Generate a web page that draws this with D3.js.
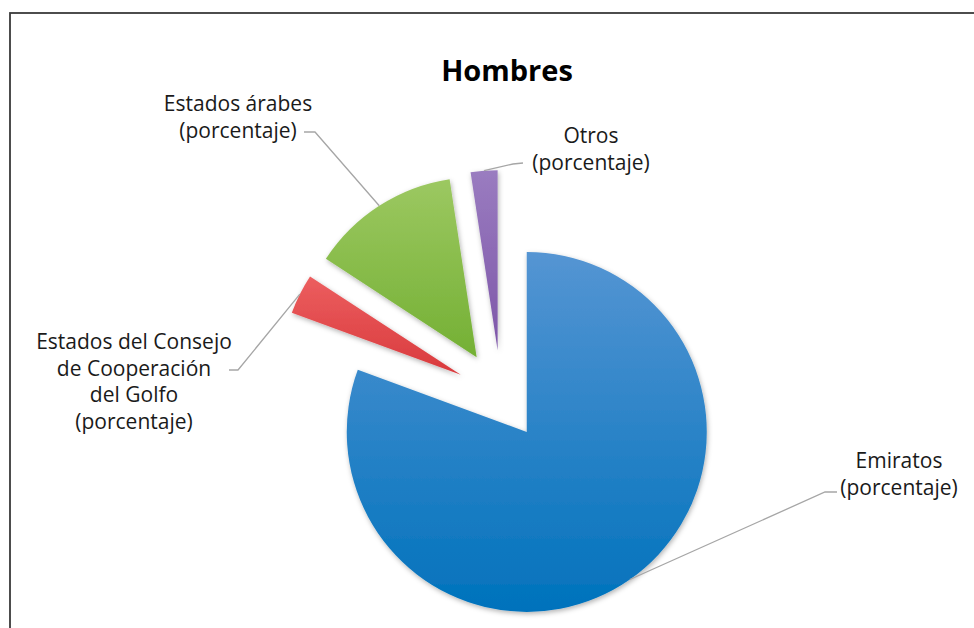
<!DOCTYPE html>
<html>
<head>
<meta charset="utf-8">
<script src="https://cdn.jsdelivr.net/npm/d3@7"></script>
<style>
  html, body { margin: 0; padding: 0; background: #fff; }
  svg { display: block; }
  text { font-family: "Open Sans", "Noto Sans", sans-serif; fill: #1a1a1a; }
</style>
</head>
<body>
<svg id="chart" width="974" height="628"></svg>
<script>
// Composición por origen — Hombres
const categories = ["Emiratos", "Estados del Consejo de Cooperación del Golfo", "Estados árabes", "Otros"];
const values = [80.6, 3.6, 13.4, 2.4];
const labelLines = [
  ["Emiratos", "(porcentaje)"],
  ["Estados del Consejo", "de Cooperación", "del Golfo", "(porcentaje)"],
  ["Estados árabes", "(porcentaje)"],
  ["Otros", "(porcentaje)"]
];
const colorsTop = ["#5595d3", "#ec5e5f", "#9cc861", "#9a7cc0"];
const colorsBottom = ["#0072bc", "#d93a3d", "#74b034", "#7d56a8"];
const title = "Hombres";

const W = 974, H = 628;
const cx = 501, cy = 395, radius = 180, explode = 45;

const svg = d3.select("#chart");
const defs = svg.append("defs");

// soft halo under each slice
const shadow = defs.append("filter").attr("id", "sliceShadow")
  .attr("x", "-20%").attr("y", "-20%").attr("width", "140%").attr("height", "140%");
shadow.append("feDropShadow")
  .attr("dx", 1).attr("dy", 2).attr("stdDeviation", 2.5)
  .attr("flood-color", "#000").attr("flood-opacity", 0.3);

values.forEach((v, i) => {
  const g = defs.append("linearGradient").attr("id", "grad" + i)
    .attr("x1", 0).attr("y1", 0).attr("x2", 0).attr("y2", 1);
  g.append("stop").attr("offset", "0%").attr("stop-color", colorsTop[i]);
  g.append("stop").attr("offset", "100%").attr("stop-color", colorsBottom[i]);
});

// frame
svg.append("rect")
  .attr("x", 10).attr("y", 13).attr("width", W + 20).attr("height", H + 20)
  .attr("fill", "none").attr("stroke", "#3a3a3a").attr("stroke-width", 1.8);

// title
svg.append("text")
  .attr("x", 507).attr("y", 81)
  .attr("text-anchor", "middle")
  .style("font-weight", 700).style("font-size", "29px")
  .style("fill", "#000")
  .text(title);

const pie = d3.pie().sort(null).startAngle(0).endAngle(2 * Math.PI);
const arcs = pie(values);
const arc = d3.arc().innerRadius(0).outerRadius(radius);

function offsetOf(d) {
  const mid = (d.startAngle + d.endAngle) / 2;
  return [Math.sin(mid) * explode, -Math.cos(mid) * explode];
}
function arcMid(d, r) {
  const mid = (d.startAngle + d.endAngle) / 2;
  const [ox, oy] = offsetOf(d);
  return [cx + ox + Math.sin(mid) * r, cy + oy - Math.cos(mid) * r];
}

// slices
svg.append("g").selectAll("path")
  .data(arcs)
  .join("path")
  .attr("transform", d => {
    const [ox, oy] = offsetOf(d);
    return `translate(${cx + ox},${cy + oy})`;
  })
  .attr("d", arc)
  .attr("fill", (d, i) => `url(#grad${i})`)
  .attr("filter", "url(#sliceShadow)");

// label anchors (centre x, first baseline) and leader elbows
const labelPos = [
  { x: 899, y: 468, elbow: [[837, 492], [825, 492]] },
  { x: 134, y: 349, elbow: [[229, 370], [238, 370]] },
  { x: 238, y: 111, elbow: [[304, 132], [315, 132]] },
  { x: 591, y: 143, elbow: [[523, 163], [513, 164]] }
];
const lineH = 26.7;

const leaders = svg.append("g");
arcs.forEach((d, i) => {
  const pts = labelPos[i].elbow.concat([arcMid(d, radius)]);
  leaders.append("path")
    .attr("d", d3.line()(pts))
    .attr("fill", "none")
    .attr("stroke", "#a6a6a6")
    .attr("stroke-width", 1.3);
});

const labels = svg.append("g");
labelLines.forEach((lines, i) => {
  const t = labels.append("text")
    .attr("text-anchor", "middle")
    .style("font-size", "21px");
  lines.forEach((ln, k) => {
    t.append("tspan")
      .attr("x", labelPos[i].x)
      .attr("y", labelPos[i].y + k * lineH)
      .text(ln);
  });
});
</script>
</body>
</html>
